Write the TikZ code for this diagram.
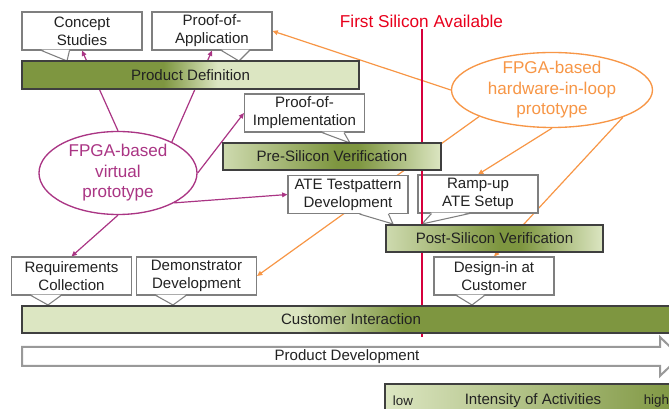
\documentclass[tikz,border=0pt]{standalone}
\usepackage{fontspec}
\setmainfont{Liberation Sans}
\usetikzlibrary{calc,shapes.geometric,arrows.meta}

\definecolor{olivedk}{HTML}{7E9640}
\definecolor{olivelt}{HTML}{DCE6C2}
\definecolor{virtcol}{HTML}{AA3584}
\definecolor{hilcol}{HTML}{F79646}
\definecolor{silred}{HTML}{E8001C}
\definecolor{silline}{HTML}{D6003C}
\definecolor{boxgray}{HTML}{7F7F7F}
\definecolor{bardraw}{HTML}{3F3F3F}
\definecolor{txt}{HTML}{222222}

\pgfdeclarehorizontalshading{pdefshade}{100bp}{color(0bp)=(olivedk); color(46bp)=(olivedk); color(54bp)=(olivelt); color(100bp)=(olivelt)}
\pgfdeclarehorizontalshading{verifshade}{100bp}{color(0bp)=(olivelt!85!olivedk); color(25bp)=(olivelt!85!olivedk); color(51bp)=(olivedk); color(56bp)=(olivedk); color(75bp)=(olivelt); color(100bp)=(olivelt)}
\pgfdeclarehorizontalshading{custshade}{100bp}{color(0bp)=(olivelt); color(46bp)=(olivelt); color(54bp)=(olivedk); color(100bp)=(olivedk)}
\pgfdeclarehorizontalshading{intenshade}{100bp}{color(0bp)=(olivelt); color(25bp)=(olivelt); color(75bp)=(olivedk); color(100bp)=(olivedk)}

\pgfdeclarelayer{bg}
\pgfsetlayers{bg,main}

\newcommand{\boxfont}{\fontsize{11.3}{13.5}\selectfont}
\newcommand{\protofont}{\fontsize{12.8}{15.4}\selectfont}
\newcommand{\titlefont}{\fontsize{12.9}{15}\selectfont}
\newcommand{\lowfont}{\fontsize{10}{12}\selectfont}

% pointer under a callout box: node, left/right base offset, tip
\newcommand{\calltail}[4]{%
  \path[fill=white] ($(#1.south west)+(#2,-1)$) -- #4 -- ($(#1.south west)+(#3,-1)$) -- cycle;
  \draw[boxgray, line width=0.8pt] ($(#1.south west)+(#2,0)$) -- #4 -- ($(#1.south west)+(#3,0)$);}

\begin{document}
\begin{tikzpicture}[x=0.75pt, y=-0.75pt,
  callbox/.style={draw=boxgray, line width=0.8pt, fill=white, text=txt, align=center,
    minimum width=90pt, minimum height=28.5pt, inner sep=1pt, font=\boxfont},
  bar/.style={draw=bardraw, line width=1.1pt, shade, text=txt, minimum height=20.25pt,
    inner sep=0pt, font=\boxfont},
  proto/.style={ellipse, line width=1pt, fill=white, align=center, inner sep=0pt, font=\protofont},
  virtarrow/.style={draw=virtcol, line width=0.9pt, -{Triangle[length=4pt,width=3.5pt]}},
  hilarrow/.style={draw=hilcol, line width=0.9pt, -{Triangle[length=4pt,width=3.5pt]}}]
  \useasboundingbox (0,0) rectangle (669,409);
  \clip (0,0) rectangle (669,409);

  % activities
  \node[callbox] (concept) at (82,31) {Concept\\Studies};
  \node[callbox] (poa) at (212,31) {Proof-of-\\Application};
  \node[callbox] (poi) at (304.5,113) {Proof-of-\\Implementation};
  \node[callbox] (ate) at (348,194.5) {ATE Testpattern\\Development};
  \node[callbox] (ramp) at (478,194) {Ramp-up\\ATE Setup};
  \node[callbox] (design) at (494,276) {Design-in at\\Customer};
  \node[callbox] (req) at (71.5,276) {Requirements\\Collection};
  \node[callbox] (demo) at (196.5,276) {Demonstrator\\Development};

  \calltail{concept}{20}{48}{(67,61)}
  \calltail{poa}{70}{98}{(239,61)}
  \calltail{poi}{78}{100}{(350,143)}
  \calltail{ate}{72}{101}{(393,224)}
  \calltail{ramp}{14}{52}{(422,224)}
  \calltail{design}{23}{51}{(472,305)}
  \calltail{req}{20}{50}{(48,305)}
  \calltail{demo}{20}{50}{(173,305)}

  % prototypes
  \node[proto, draw=virtcol, text=virtcol, minimum width=118.5pt, minimum height=62.25pt]
    (virt) at (118,173) {FPGA-based\\virtual\\prototype};
  \node[proto, draw=hilcol, text=hilcol, minimum width=150.75pt, minimum height=56.25pt,
    inner ysep=-2pt] (hil) at (552,90) {FPGA-based\\hardware-in-loop\\prototype};

  % first silicon
  \node[text=silred, font=\titlefont, inner sep=1pt] (silicon) at (421.5,21) {First Silicon Available};
  \coordinate (silend) at (422,337);
  \draw[silline, line width=1.5pt] (silicon.south -| silend) -- (silend);

  % phases
  \node[bar, shading=pdefshade, minimum width=252.75pt, minimum height=21pt] (pdef) at (190.5,75) {Product Definition};
  \node[bar, shading=verifshade, minimum width=163.5pt] (presil) at (332,156.5) {Pre-Silicon Verification};
  \node[bar, shading=verifshade, minimum width=162.75pt] (postsil) at (494.5,238.5) {Post-Silicon Verification};
  \node[bar, shading=custshade, minimum width=493.5pt] (cust) at (351,319.5) {Customer Interaction};

  \draw[draw=boxgray!80, line width=1.5pt, fill=white] (22,347) -- (660,347) -- (660,337) -- (680,356.5)
    -- (660,376) -- (660,366) -- (22,366) -- cycle;
  \node[font=\boxfont, text=txt] (dev) at (347,356.5) {Product Development};

  \node[bar, shading=intenshade, minimum width=222pt, minimum height=25.5pt] (inten) at (533,401) {Intensity of Activities};
  \node[anchor=west, font=\lowfont, text=txt] (low) at ($(inten.west)+(4,0)$) {low};
  \node[anchor=east, font=\lowfont, text=txt] (high) at ($(inten.east)+(-8,0)$) {high};

  \begin{pgfonlayer}{bg}
    \draw[virtarrow] (virt.north) -- (concept.south);
    \draw[virtarrow] (virt.30) -- (poa.south);
    \draw[virtarrow] (virt.east) -- (poi.west);
    \draw[virtarrow] (virt.-28) -- (ate.west);
    \draw[virtarrow] (virt.south) -- (req.north);

    \draw[hilarrow] (hil.west) -- (poa.east);
    \draw[hilarrow] (hil.200) -- (demo.east);
    \draw[hilarrow] (hil.south) -- (ramp.north);
    \draw[hilarrow] (hil.-21) -- (design.north);
  \end{pgfonlayer}
\end{tikzpicture}
\end{document}
